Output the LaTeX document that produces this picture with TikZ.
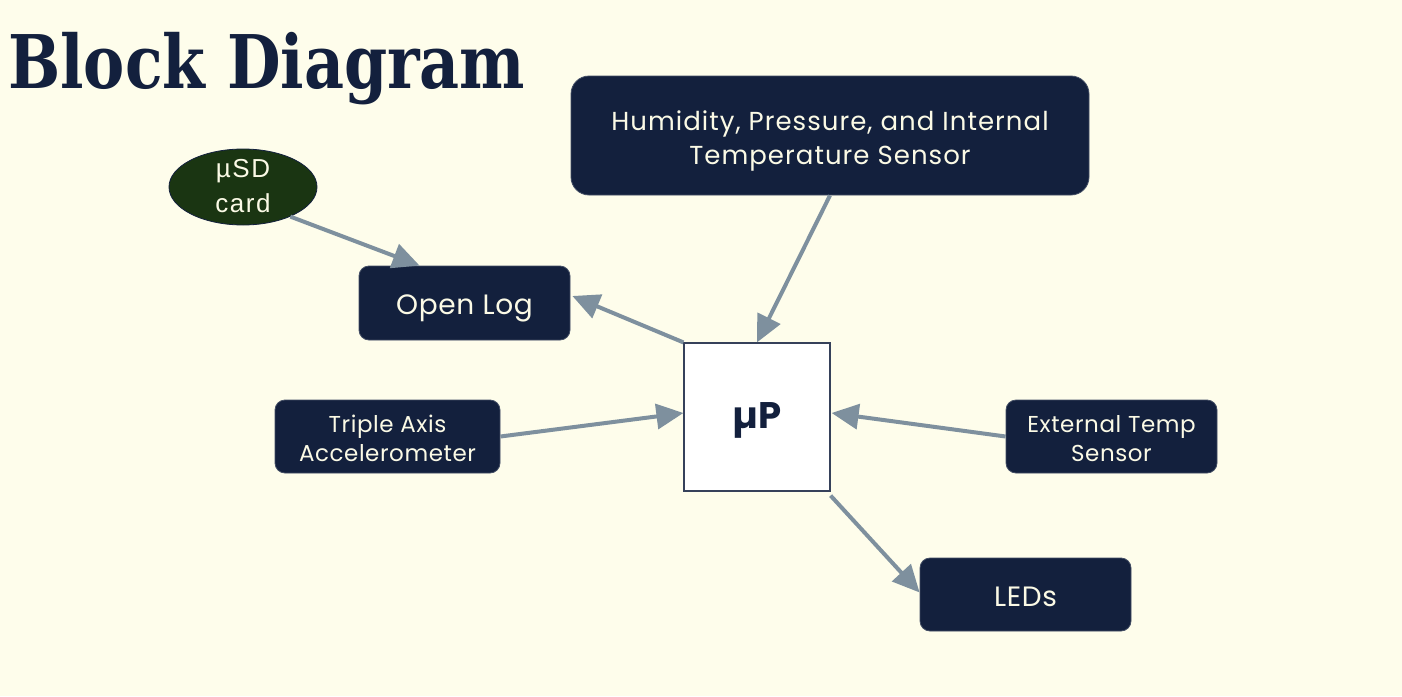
\documentclass[tikz,border=0pt]{standalone}
\usepackage{fontspec}
\setmainfont{Poppins}
\newfontfamily\wideface[LetterSpace=4]{Poppins}
\newfontfamily\midface[LetterSpace=2.5]{Poppins}
\newfontfamily\titlefont{DejaVu Serif}
\newfontfamily\cardfont[LetterSpace=6]{Liberation Sans}
\usetikzlibrary{calc,arrows.meta,shapes.geometric}
\definecolor{paper}{HTML}{FEFDEB}
\definecolor{navy}{HTML}{13203D}
\definecolor{moss}{HTML}{1A3512}
\definecolor{wire}{HTML}{7E909E}
\definecolor{ink}{HTML}{FBFAE6}
\tikzset{
  % baseline of the last text line sits #1/2 below the node centre
  drop/.style={text height=#1, text depth=0pt},
  block/.style={fill=navy, draw=navy!80!white, line width=0.8pt, rounded corners=10pt,
    text=ink, align=center, inner sep=0pt, font=\midface\fontsize{23}{29}\selectfont},
  bigblock/.style={block, rounded corners=18pt, font=\wideface\fontsize{26}{34}\selectfont},
  cardnode/.style={ellipse, fill=moss, draw=navy, line width=0.8pt, text=ink, align=center,
    inner sep=0pt, minimum width=148pt, minimum height=76pt, font=\cardfont\fontsize{26}{35}\selectfont},
  cpu/.style={fill=white, draw=navy!85!white, line width=1.2pt, inner sep=0pt,
    minimum width=146pt, minimum height=148pt, text=navy, font=\bfseries\fontsize{37}{40}\selectfont},
  link/.style={draw=wire, line width=4pt, -{Triangle[length=27pt,width=25pt]}, shorten >=0pt}
}
\begin{document}
\begin{tikzpicture}[x=1pt,y=-1pt]
  \fill[paper] (0,0) rectangle (1402,696);
  \useasboundingbox (0,0) rectangle (1402,696);

  % heading
  \node[anchor=base west, inner sep=0pt, text=navy, font=\titlefont\bfseries\fontsize{74}{80}\selectfont]
    (title) at (8,88) {\scalebox{0.835}[1]{Block Diagram}};

  % blocks
  \node[bigblock, drop=57pt, minimum width=518pt, minimum height=119pt] (hum) at (830,135.5)
    {Humidity, Pressure, and Internal\\Temperature Sensor};
  \node[cardnode, drop=50pt] (card) at (243,187) {µSD\\card};
  \node[block, drop=22pt, minimum width=211pt, minimum height=74pt, font=\midface\fontsize{28}{32}\selectfont]
    (log) at (464.5,303) {Open Log};
  \node[cpu, drop=22pt] (mcu) at (757,417) {µP};
  \node[block, drop=49pt, minimum width=225pt, minimum height=73pt] (acc) at (387.5,436.5)
    {Triple Axis\\Accelerometer};
  \node[block, drop=49pt, minimum width=211pt, minimum height=73pt] (ext) at (1111.5,436.5)
    {External Temp\\Sensor};
  \node[block, drop=23pt, minimum width=211pt, minimum height=73pt, font=\midface\fontsize{28}{32}\selectfont]
    (leds) at (1025.5,594.5) {LEDs};

  % connections
  \draw[link] (card.-32) -- ($(log.north west)+(61,0)$);
  \draw[link] (mcu.north west) -- ($(log.east)+(2,-7)$);
  \draw[link] (hum.south) -- (mcu.north);
  \draw[link] (acc.east) -- ($(mcu.west)+(0,-4)$);
  \draw[link] (ext.west) -- ($(mcu.east)+(1,-4)$);
  \draw[link] ($(mcu.south east)+(0,4)$) -- ($(leds.west)+(0,-2)$);
\end{tikzpicture}
\end{document}
